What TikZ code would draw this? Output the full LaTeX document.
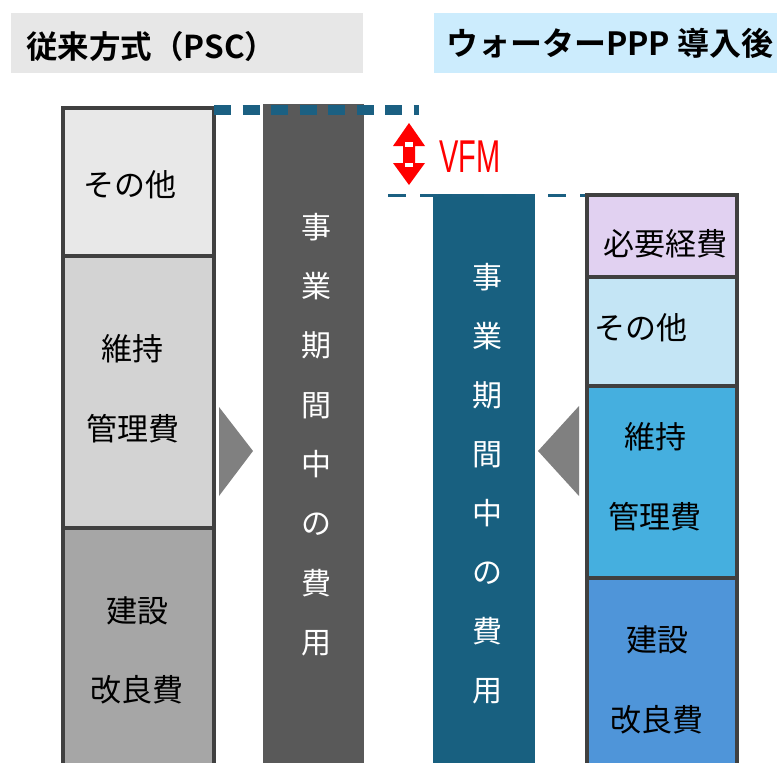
\documentclass[tikz,border=0pt]{standalone}
\usepackage{fontspec}
\newfontfamily\jp{Noto Sans CJK JP}
\newfontfamily\jpb{Noto Sans CJK JP Bold}
\newfontfamily\narrowsans{Liberation Sans}
\definecolor{hdrgray}{HTML}{E7E7E7}
\definecolor{hdrblue}{HTML}{CCECFD}
\definecolor{lgA}{HTML}{E8E8E8}
\definecolor{lgB}{HTML}{D3D3D3}
\definecolor{lgC}{HTML}{A6A6A6}
\definecolor{bargray}{HTML}{595959}
\definecolor{barteal}{HTML}{186080}
\definecolor{dashteal}{HTML}{1B6082}
\definecolor{rcA}{HTML}{E1D1F1}
\definecolor{rcB}{HTML}{C4E5F5}
\definecolor{rcC}{HTML}{45AFDF}
\definecolor{rcD}{HTML}{4F95D9}
\definecolor{bordergray}{HTML}{404040}
\definecolor{trigray}{HTML}{808080}
\begin{document}
\begin{tikzpicture}[x=1pt,y=-1pt,
  stackbox/.style={rectangle,draw=bordergray,line width=4pt,inner sep=0pt,minimum width=151pt},
  colbar/.style={rectangle,inner sep=0pt},
  lbl/.style={inner sep=0pt,font=\jp\fontsize{31}{31}\selectfont,text=black},
  vtext/.style={inner sep=0pt,align=center,text=white},
  hdr/.style={inner sep=0pt,anchor=west,text=black}]
\useasboundingbox (0,0) rectangle (777,763);
\clip (0,0) rectangle (777,763);
% headers
\node[colbar,fill=hdrgray,minimum width=352pt,minimum height=60pt] (hL) at (187,43) {};
\node[colbar,fill=hdrblue,minimum width=343pt,minimum height=60pt] (hR) at (605.5,43) {};
\node[hdr,font=\jpb\fontsize{31.5}{31.5}\selectfont] (hLt) at (26,47) {従来方式（PSC）};
\node[hdr,font=\jpb\fontsize{32}{32}\selectfont] (hRt) at (446,43) {ウォーターPPP 導入後};
% bars
\node[colbar,fill=bargray,minimum width=101pt,minimum height=671pt] (gbar) at (313.5,439.5) {};
\node[colbar,fill=barteal,minimum width=102pt,minimum height=581pt] (tbar) at (484,484.5) {};
\node[vtext,font=\jp\fontsize{30}{59.3}\selectfont] (gtxt) at (316,434.5) {事\\業\\期\\間\\中\\の\\費\\用};
\node[vtext,font=\jp\fontsize{30}{59}\selectfont] (ttxt) at (487,483.5) {事\\業\\期\\間\\中\\の\\費\\用};
% left stack
\node[stackbox,fill=lgA,minimum height=148pt] (l1) at (138.5,182) {};
\node[stackbox,fill=lgB,minimum height=272pt] (l2) at (138.5,392) {};
\node[stackbox,fill=lgC,minimum height=247pt] (l3) at (138.5,651.5) {};
\node[lbl] (l1t) at (130,185) {その他};
\node[lbl] (l2a) at (132,349) {維持};
\node[lbl] (l2b) at (133,429) {管理費};
\node[lbl] (l3a) at (137,611) {建設};
\node[lbl] (l3b) at (137,690) {改良費};
% right stack
\node[stackbox,fill=rcA,minimum width=150pt,minimum height=82pt] (r1) at (662,236) {};
\node[stackbox,fill=rcB,minimum width=150pt,minimum height=109pt] (r2) at (662,331.5) {};
\node[stackbox,fill=rcC,minimum width=150pt,minimum height=192pt] (r3) at (662,482) {};
\node[stackbox,fill=rcD,minimum width=150pt,minimum height=197pt] (r4) at (662,676.5) {};
\node[lbl] (r1t) at (665,244) {必要経費};
\node[lbl] (r2t) at (641,328) {その他};
\node[lbl] (r3a) at (655,437) {維持};
\node[lbl] (r3b) at (655,517) {管理費};
\node[lbl] (r4a) at (657,640) {建設};
\node[lbl] (r4b) at (657,720) {改良費};
% triangles
\fill[trigray] (219,407) -- (253,451) -- (219,496) -- cycle;
\fill[trigray] (579,406) -- (538,451) -- (579,496) -- cycle;
% dashed level lines
\coordinate (topS) at (214,110);
\coordinate (topE) at (419,110);
\coordinate (lowS) at (388,195.5);
\coordinate (lowE) at (585,195.5);
\draw[dashteal,line width=10pt,dash pattern=on 17pt off 11.5pt] (topS) -- (topE);
\draw[dashteal,line width=3.5pt,dash pattern=on 18pt off 14pt] (lowS) -- (lowE);
% VFM arrow
\fill[red] (409,123) -- (425,146) -- (415,146) -- (415,163) -- (425,163) -- (409,185)
  -- (393,163) -- (403,163) -- (403,146) -- (393,146) -- cycle;
\fill[white] (405,142) rectangle (413,146.5);
\fill[white] (405,163) rectangle (413,167);
\node[inner sep=0pt,anchor=west,text=red,font=\narrowsans\fontsize{46}{46}\selectfont] (vfm) at (439,156.5) {\scalebox{0.63}[1]{VFM}};
\end{tikzpicture}
\end{document}
